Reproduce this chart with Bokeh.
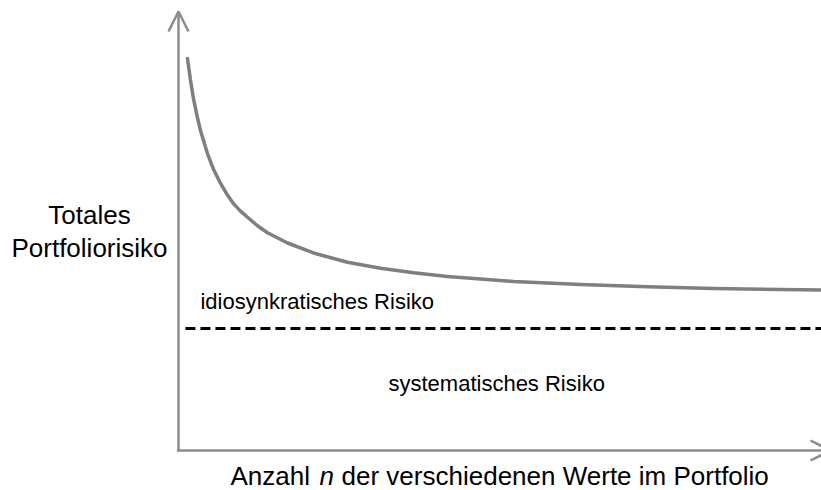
from bokeh.plotting import figure
from bokeh.models import Range1d, Label, Arrow, OpenHead
from bokeh.embed import file_html
from bokeh.resources import INLINE

# Data: number of securities n vs. total portfolio risk
n_values = [0.70, 0.93, 1.17, 1.44, 1.71, 2.26, 2.72, 3.27, 3.73, 4.28,
            4.82, 5.37, 6.14, 6.92, 8.48, 10.50, 13.14, 15.71, 18.27, 20.92,
            26.05, 31.26, 36.47, 41.60, 46.81, 50.0]
risk_values = [89.1, 84.18, 79.9, 76.09, 72.7, 67.43, 63.93, 60.7, 58.43, 56.1,
               54.41, 53.0, 51.07, 49.5, 47.16, 44.89, 42.77, 41.43, 40.39, 39.55,
               38.41, 37.73, 37.23, 36.84, 36.57, 36.45]
systematic_n = [0.54, 50.0]
systematic_risk = [27.7, 27.7]

x_label = ["Anzahl", "n", "der verschiedenen Werte im Portfolio"]
y_label = ["Totales", "Portfoliorisiko"]
area_labels = ["idiosynkratisches Risiko", "systematisches Risiko"]

FONT = "Liberation Sans"

p = figure(width=821, height=490, output_backend="svg", toolbar_location=None,
           x_range=Range1d(-13.84, 50.0), y_range=Range1d(-9.09, 102.27),
           min_border=0, min_border_left=0, min_border_right=0,
           min_border_top=0, min_border_bottom=0)
p.axis.visible = False
p.grid.visible = False
p.outline_line_color = None
p.background_fill_color = "white"
p.border_fill_color = "white"

# axes with open arrow heads
axis_col = "#8c8c8c"
p.add_layout(Arrow(x_start=0, y_start=-0.2, x_end=0, y_end=99.77,
                   line_color=axis_col, line_width=2.5,
                   end=OpenHead(size=20, line_color=axis_col, line_width=2.5)))
p.add_layout(Arrow(x_start=-0.1, y_start=0, x_end=50.7, y_end=0,
                   line_color=axis_col, line_width=2.5,
                   end=OpenHead(size=20, line_color=axis_col, line_width=2.5)))

# total risk curve
p.line(n_values, risk_values, line_color="#7f7f7f", line_width=3.5,
       line_join="round", line_cap="round")
# systematic risk level
p.line(systematic_n, systematic_risk, line_color="black", line_width=3,
       line_dash="10 5")

def lab(x, y, text, size, align="left", style="normal"):
    p.add_layout(Label(x=x, y=y, text=text, text_font=FONT,
                       text_font_size=f"{size}px", text_align=align,
                       text_baseline="middle", text_color="black",
                       text_font_style=style, text_line_height=1.0))

lab(-6.92, 53.41, y_label[0], 26, "center")
lab(-6.92, 45.91, y_label[1], 26, "center")
lab(1.71, 33.77, area_labels[0], 22)
lab(16.33, 15.14, area_labels[1], 22)
lab(4.04, -5.8, x_label[0], 26)
lab(10.96, -5.8, x_label[1], 26, style="italic")
lab(12.68, -5.8, x_label[2], 26)

open("out.html", "w").write(file_html(p, INLINE))
